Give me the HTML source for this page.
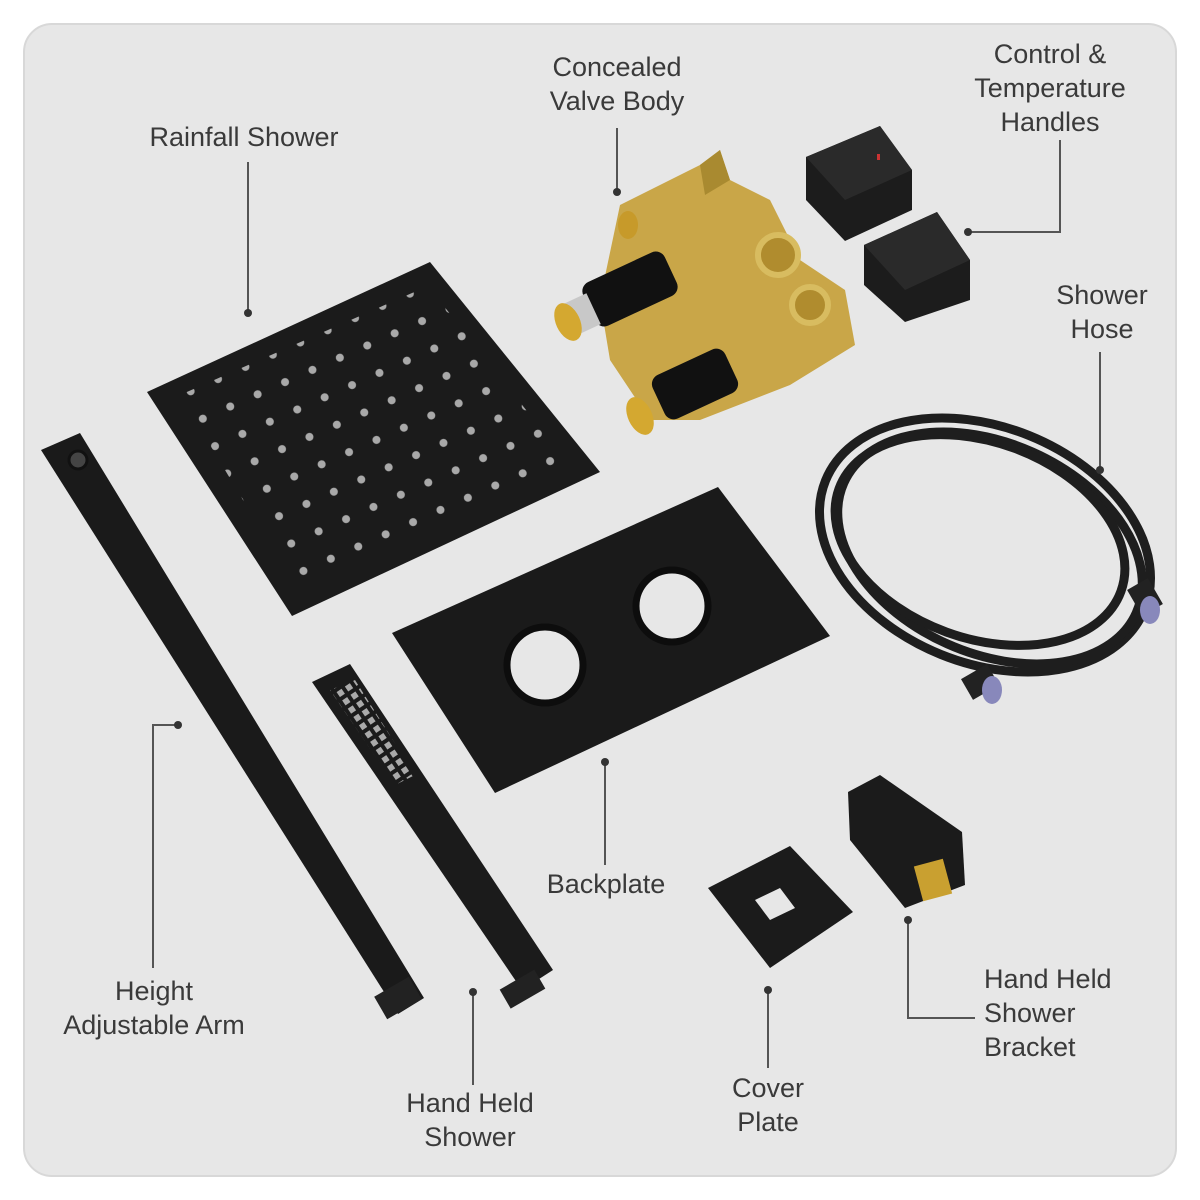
<!DOCTYPE html>
<html><head><meta charset="utf-8"><style>
html,body{margin:0;padding:0;background:#fff;}
svg{display:block;}
text{font-family:"Liberation Sans",sans-serif;font-size:27px;fill:#3a3a3a;text-anchor:middle;}
</style></head><body>
<svg width="1200" height="1200" viewBox="0 0 1200 1200" xmlns="http://www.w3.org/2000/svg">
<rect x="24" y="24" width="1152" height="1152" rx="28" fill="#e7e7e7" stroke="#d8d8d8" stroke-width="2"/>
<defs>
<pattern id="dots" x="0" y="0" width="30" height="30" patternUnits="userSpaceOnUse" patternTransform="rotate(-24)">
<circle cx="15" cy="15" r="4" fill="#a9a9a9"/></pattern>
<pattern id="hdots" width="10" height="10" patternUnits="userSpaceOnUse" patternTransform="rotate(-34)">
<rect x="2" y="2" width="6" height="6" fill="#aaa"/></pattern>
<clipPath id="sq"><polygon points="180,395 428,286 572,468 297,590"/></clipPath>
</defs>
<!-- rainfall shower -->
<polygon points="147,392 430,262 600,472 292,616" fill="#1b1b1b"/>
<rect x="150" y="260" width="450" height="360" fill="url(#dots)" clip-path="url(#sq)"/>
<!-- arm -->
<polygon points="41,450 80,433 424,998 398,1014" fill="#1a1a1a"/>
<circle cx="78" cy="460" r="9" fill="#444" stroke="#111" stroke-width="3"/>
<rect x="378" y="985" width="40" height="26" fill="#222" transform="rotate(-30 398 998)"/>
<!-- hand shower -->
<polygon points="312,682 350,664 553,970 522,990" fill="#1b1b1b"/>
<polygon points="330,690 355,680 415,775 395,785" fill="url(#hdots)"/>
<rect x="503" y="978" width="40" height="22" fill="#222" transform="rotate(-30 523 990)"/>
<!-- backplate -->
<polygon points="392,633 718,487 830,636 495,793" fill="#1a1a1a"/>
<circle cx="545" cy="665" r="38" fill="#e7e7e7" stroke="#0d0d0d" stroke-width="7"/>
<circle cx="672" cy="606" r="36" fill="#e7e7e7" stroke="#0d0d0d" stroke-width="7"/>
<!-- valve -->
<path d="M620,205 L700,165 L720,150 L730,180 L770,200 L800,260 L845,290 L855,345 L790,385 L700,420 L650,420 L610,360 L600,300 Z" fill="#c9a648"/>
<path d="M700,165 L720,150 L730,180 L705,195 Z" fill="#a98a30"/>
<circle cx="778" cy="255" r="20" fill="#b08c2e" stroke="#d8bc60" stroke-width="6"/>
<circle cx="810" cy="305" r="18" fill="#b08c2e" stroke="#d8bc60" stroke-width="6"/>
<rect x="585" y="265" width="90" height="48" rx="10" fill="#111" transform="rotate(-25 630 289)"/>
<rect x="655" y="360" width="80" height="48" rx="10" fill="#111" transform="rotate(-25 695 384)"/>
<rect x="565" y="298" width="30" height="34" fill="#c8c8c8" transform="rotate(-25 580 315)"/>
<ellipse cx="568" cy="322" rx="12" ry="20" fill="#d4a830" transform="rotate(-25 568 322)"/>
<ellipse cx="640" cy="416" rx="12" ry="20" fill="#d4a830" transform="rotate(-25 640 416)"/>
<ellipse cx="628" cy="225" rx="10" ry="14" fill="#c79a2a"/>
<!-- handles -->
<polygon points="806,157 880,126 912,170 912,210 845,241 806,200" fill="#1c1c1c"/>
<polygon points="806,157 880,126 912,170 845,200" fill="#2a2a2a"/>
<rect x="877" y="154" width="3" height="6" fill="#c33"/>
<polygon points="864,245 937,212 970,260 970,300 905,322 864,285" fill="#1c1c1c"/>
<polygon points="864,245 937,212 970,260 905,290" fill="#2a2a2a"/>
<!-- hose -->
<g fill="none" stroke="#1e1e1e" stroke-width="9">
<ellipse cx="985" cy="545" rx="172" ry="118" transform="rotate(22 985 545)"/>
<ellipse cx="990" cy="548" rx="160" ry="105" transform="rotate(24 990 548)"/>
<ellipse cx="980" cy="540" rx="150" ry="98" transform="rotate(20 980 540)"/>
</g>
<rect x="1130" y="585" width="30" height="24" fill="#222" transform="rotate(60 1145 597)"/>
<ellipse cx="1150" cy="610" rx="10" ry="14" fill="#8888bb"/>
<rect x="965" y="670" width="30" height="24" fill="#222" transform="rotate(-30 980 682)"/>
<ellipse cx="992" cy="690" rx="10" ry="14" fill="#8888bb"/>
<!-- cover plate -->
<polygon points="708,888 790,846 853,912 770,968" fill="#1b1b1b"/>
<polygon points="755,900 780,888 795,908 770,920" fill="#e7e7e7"/>
<!-- bracket -->
<polygon points="848,792 880,775 962,832 965,885 905,908 850,840" fill="#1b1b1b"/>
<rect x="918" y="862" width="30" height="36" fill="#c9a030" transform="rotate(-15 933 880)"/>
<!-- leaders -->
<g stroke="#555" stroke-width="2" fill="none">
<line x1="248" y1="162" x2="248" y2="313"/>
<line x1="617" y1="128" x2="617" y2="192"/>
<polyline points="1060,140 1060,232 968,232"/>
<line x1="1100" y1="352" x2="1100" y2="470"/>
<polyline points="178,725 153,725 153,968"/>
<line x1="473" y1="992" x2="473" y2="1085"/>
<line x1="605" y1="762" x2="605" y2="865"/>
<line x1="768" y1="990" x2="768" y2="1068"/>
<polyline points="908,920 908,1018 975,1018"/>
</g>
<g fill="#333">
<circle cx="248" cy="313" r="4"/><circle cx="617" cy="192" r="4"/><circle cx="968" cy="232" r="4"/>
<circle cx="1100" cy="470" r="4"/><circle cx="178" cy="725" r="4"/><circle cx="473" cy="992" r="4"/>
<circle cx="605" cy="762" r="4"/><circle cx="768" cy="990" r="4"/><circle cx="908" cy="920" r="4"/>
</g>
<!-- labels -->
<text x="244" y="146">Rainfall Shower</text>
<text x="617" y="76">Concealed</text><text x="617" y="110">Valve Body</text>
<text x="1050" y="63">Control &amp;</text><text x="1050" y="97">Temperature</text><text x="1050" y="131">Handles</text>
<text x="1102" y="304">Shower</text><text x="1102" y="338">Hose</text>
<text x="154" y="1000">Height</text><text x="154" y="1034">Adjustable Arm</text>
<text x="470" y="1112">Hand Held</text><text x="470" y="1146">Shower</text>
<text x="606" y="893">Backplate</text>
<text x="768" y="1097">Cover</text><text x="768" y="1131">Plate</text>
<text x="984" y="988" style="text-anchor:start">Hand Held</text>
<text x="984" y="1022" style="text-anchor:start">Shower</text>
<text x="984" y="1056" style="text-anchor:start">Bracket</text>
</svg>
</body></html>
